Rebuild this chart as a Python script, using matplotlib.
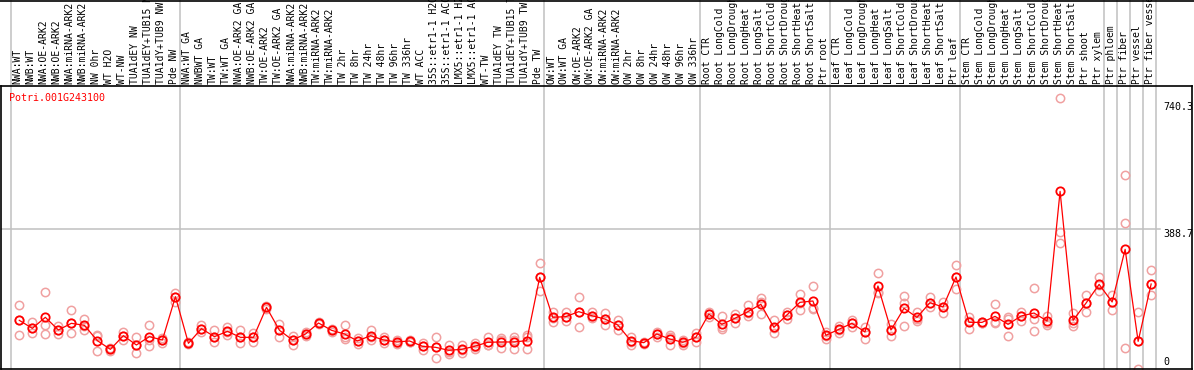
"""Expression plot for Potri.001G243100 across poplar samples (eFP style)."""
import matplotlib
matplotlib.use("Agg")
import matplotlib.pyplot as plt

RED, PINK, GRID = "#ff0000", "#f0a0a0", "#c0c0c0"
FONT = "DejaVu Sans Mono"

gene = "Potri.001G243100"

samples = [
    "NWA:WT", "NWB:WT", "NWA:OE-ARK2", "NWB:OE-ARK2", "NWA:miRNA-ARK2",
    "NWB:miRNA-ARK2", "NW 0hr", "WT H2O", "WT-NW", "TUA1dEY NW",
    "TUA1dEY+TUB15 NW", "TUA1dY+TUB9 NW", "Pde NW",
    "NWA:WT GA", "NWBWT GA", "TW:WT", "TW:WT GA", "NWA:OE-ARK2 GA",
    "NWB:OE-ARK2 GA", "TW:OE-ARK2", "TW:OE-ARK2 GA", "NWA:miRNA-ARK2",
    "NWB:miRNA-ARK2", "TW:miRNA-ARK2", "TW:miRNA-ARK2", "TW 2hr", "TW 8hr",
    "TW 24hr", "TW 48hr", "TW 96hr", "TW 336hr", "WT ACC", "35S::etr1-1 H2O",
    "35S::etr1-1 ACC", "LMX5::etr1-1 H2O", "LMX5::etr1-1 ACC", "WT-TW",
    "TUA1dEY TW", "TUA1dEY+TUB15 TW", "TUA1dY+TUB9 TW", "Pde TW",
    "OW:WT", "OW:WT GA", "OW:OE-ARK2", "OW:OE-ARK2 GA", "OW:miRNA-ARK2",
    "OW:miRNA-ARK2", "OW 2hr", "OW 8hr", "OW 24hr", "OW 48hr", "OW 96hr",
    "OW 336hr",
    "Root CTR", "Root LongCold", "Root LongDrought", "Root LongHeat",
    "Root LongSalt", "Root ShortCold", "Root ShortDrought", "Root ShortHeat",
    "Root ShortSalt", "Ptr root",
    "Leaf CTR", "Leaf LongCold", "Leaf LongDrought", "Leaf LongHeat",
    "Leaf LongSalt", "Leaf ShortCold", "Leaf ShortDrought", "Leaf ShortHeat",
    "Leaf ShortSalt", "Ptr leaf",
    "Stem CTR", "Stem LongCold", "Stem LongDrought", "Stem LongHeat",
    "Stem LongSalt", "Stem ShortCold", "Stem ShortDrought", "Stem ShortHeat",
    "Stem ShortSalt", "Ptr shoot", "Ptr xylem",
    "Ptr phloem", "Ptr fiber", "Ptr vessel", "Ptr fiber vessel",
]

# sample index where each group starts (plus the end)
group_edges = [0, 13, 41, 53, 63, 73, 84, 85, 86, 87, 88]

means = [
    135.1, 112.9, 143.5, 108.3, 126.8, 121.3, 78.7, 54.6, 92.6, 66.7, 89.8, 80.5, 200.8,
    71.3, 112.0, 89.8, 104.6, 87.9, 87.9, 171.2, 107.4, 80.5, 97.2, 127.7, 107.4, 97.2,
    77.8, 92.6, 80.5, 75.0, 77.8, 63.0, 60.2, 51.9, 54.6, 63.0, 74.1, 75.0, 75.0, 78.7, 254.5,
    143.5, 145.3, 159.2, 148.1, 138.8, 122.2, 78.7, 73.1, 97.2, 83.3, 74.1, 87.9,
    152.7, 124.0, 140.7, 159.2, 179.6, 115.7, 149.9, 185.1, 188.8, 93.5,
    110.2, 126.8, 102.8, 230.5, 108.3, 168.4, 143.4, 184.1, 172.1, 255.4,
    129.5, 129.5, 146.2, 124.0, 147.1, 155.4, 133.2, 493.2, 135.1, 183.2, 235.0,
    186.0, 332.2, 76.8, 236.0,
]

rep1 = [
    176.8, 130.5, 212.9, 119.4, 162.9, 137.9, 94.4, 57.4, 103.7, 87.9, 121.3, 85.2, 212.0,
    75.9, 122.2, 108.3, 115.7, 108.3, 99.1, 174.9, 125.0, 91.6, 103.7, 131.4, 110.2, 122.2,
    85.2, 108.3, 87.9, 80.5, 80.5, 73.1, 87.9, 66.7, 66.7, 71.3, 87.9, 85.2, 87.9, 94.4, 293.4,
    159.2, 159.2, 200.8, 159.2, 156.4, 136.1, 87.9, 75.9, 103.7, 94.4, 80.5, 100.9,
    159.2, 147.2, 152.7, 177.7, 196.2, 136.1, 159.2, 208.2, 230.5, 103.7,
    119.4, 136.1, 117.6, 265.6, 125.0, 202.6, 159.1, 200.8, 186.9, 288.7,
    143.4, 131.4, 180.4, 143.4, 159.1, 224.0, 147.1, 751.4, 154.5, 205.4, 256.3,
    205.4, 538.5, 157.3, 274.8,
]
rep2 = [
    135.1, 113.0, 121.3, 108.3, 126.8, 119.4, 91.6, 54.6, 91.6, 66.7, 80.5, 80.5, 200.8,
    71.3, 112.0, 87.9, 103.7, 87.9, 87.9, 171.2, 107.4, 80.5, 97.2, 126.8, 107.4, 87.9,
    77.8, 87.9, 80.5, 73.1, 75.9, 63.0, 62.0, 48.2, 52.8, 62.0, 66.7, 80.5, 80.5, 87.9, 254.5,
    140.7, 145.3, 159.2, 148.1, 138.8, 122.2, 75.9, 73.1, 97.2, 87.9, 73.1, 87.9,
    152.7, 115.7, 140.7, 154.6, 187.0, 113.0, 149.9, 182.3, 168.4, 91.6,
    108.3, 126.8, 103.7, 214.7, 108.3, 184.1, 137.9, 184.1, 171.2, 256.3,
    134.2, 128.6, 131.4, 137.9, 147.1, 137.9, 128.6, 381.2, 128.6, 184.1, 233.2,
    187.0, 404.4, 76.8, 235.0,
]
rep3 = [
    93.5, 99.1, 97.2, 97.2, 100.0, 108.3, 49.1, 50.9, 80.5, 45.4, 64.8, 73.1, 187.0,
    68.5, 103.7, 74.1, 94.4, 71.3, 75.9, 167.5, 89.8, 66.7, 91.6, 125.0, 103.7, 82.4,
    69.4, 80.5, 73.1, 69.4, 75.9, 52.8, 29.6, 41.7, 45.4, 54.6, 66.7, 59.3, 56.5, 54.6, 217.5,
    131.4, 134.2, 115.7, 140.7, 121.3, 108.3, 66.7, 70.4, 87.9, 66.7, 66.7, 75.9,
    145.3, 110.2, 128.7, 147.2, 152.7, 99.1, 137.9, 163.8, 165.7, 82.4,
    100.9, 115.7, 82.4, 210.1, 91.6, 120.3, 134.2, 173.0, 154.5, 221.2,
    112.0, 128.6, 126.8, 90.7, 134.2, 104.6, 122.1, 348.8, 119.4, 159.1, 217.5,
    163.8, 57.4, 0.0, 205.4,
]

y_ticks = [0, 388.7, 740.3]

W, H = 1194, 370
fig = plt.figure(figsize=(W / 100, H / 100), dpi=100)
fig.patch.set_facecolor("white")
# plot box: x 1..1192, y 86..369 in pixels
ax = fig.add_axes([1 / W, 1 / H, 1191 / W, 283 / H])
ax.set_xlim(-1.407, 90.14)
ax.set_ylim(0, 785.7)
ax.set_xticks([])
ax.set_yticks([])
for sp in ax.spines.values():
    sp.set_color("black")
    sp.set_linewidth(1.2)

over = 1 + 86 / 283  # reach up through the label band
for k in group_edges:
    ax.axvline(k - 0.66, ymin=0, ymax=over, color=GRID, lw=1.1, clip_on=False, zorder=1)
ax.axhline(388.7, xmin=0, xmax=0.973, color=GRID, lw=1.1, zorder=1)

x = list(range(len(samples)))
for reps in (rep1, rep2, rep3):
    ax.plot(x, reps, ls="none", marker="o", ms=6, mfc="none", mec=PINK,
            mew=1.1, zorder=2)
ax.plot(x, means, color=RED, lw=0.9, marker="o", ms=6, mfc="none", mec=RED,
        mew=1.3, zorder=3)

for i, name in enumerate(samples):
    ax.text(i - 0.12, 1.006, name, transform=ax.get_xaxis_transform(),
            rotation=90, ha="center", va="bottom", fontsize=7, family=FONT,
            color="black", clip_on=False)

ax.text(-0.77, 0.975, gene, transform=ax.get_xaxis_transform(), ha="left",
        va="top", fontsize=7.2, family=FONT, color=RED)

tx = 0.9757
ax.text(tx, y_ticks[2], f"{y_ticks[2]}", transform=ax.get_yaxis_transform(),
        ha="left", va="top", fontsize=7.2, family=FONT, clip_on=False)
ax.text(tx, y_ticks[1], f"{y_ticks[1]}", transform=ax.get_yaxis_transform(),
        ha="left", va="top", fontsize=7.2, family=FONT, clip_on=False)
ax.text(tx, 10, f"{y_ticks[0]}", transform=ax.get_yaxis_transform(),
        ha="left", va="baseline", fontsize=7.2, family=FONT, clip_on=False)

# frame lines of the label band
fig.add_artist(plt.Line2D([0, 1], [1 - 0.5 / H, 1 - 0.5 / H], color="black", lw=1.2))

fig.savefig("out.png", dpi=100, facecolor="white")
